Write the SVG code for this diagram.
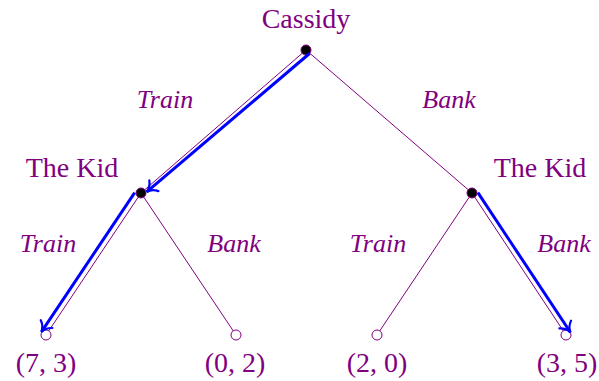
<svg xmlns="http://www.w3.org/2000/svg" width="599" height="381" viewBox="0 0 599 381">
  <style>
    .lbl { font-family: 'Liberation Serif', 'DejaVu Serif', serif; font-size: 28px; fill: #800080; text-anchor: middle; }
    .act { font-family: 'Liberation Serif', 'DejaVu Serif', serif; font-size: 26px; font-style: italic; fill: #800080; text-anchor: middle; }
    .edge { stroke: #800080; stroke-width: 1; fill: none; }
    .hl { stroke: #0000FF; stroke-width: 3; fill: none; marker-end: url(#to); }
    .inner { fill: #000000; stroke: #800080; stroke-width: 1; }
    .leaf { fill: #FFFFFF; stroke: #800080; stroke-width: 1; }
  </style>
  <defs>
    <marker id="to" markerUnits="userSpaceOnUse" markerWidth="30" markerHeight="30" viewBox="-15 -15 30 30" refX="0" refY="0" orient="auto" overflow="visible">
      <path d="M -9,-7 C -6,-2 -2,-0.5 0.5,0 C -2,0.5 -6,2 -9,7" stroke="#0000FF" stroke-width="2.2" fill="none" stroke-linecap="round"/>
    </marker>
  </defs>
  <rect width="599" height="381" fill="#FFFFFF"/>

  <g id="connectors">
    <line class="edge" x1="306" y1="50" x2="141" y2="193"/>
    <line class="edge" x1="306" y1="50" x2="472" y2="193"/>
    <line class="edge" x1="141" y1="193" x2="46" y2="335"/>
    <line class="edge" x1="141" y1="193" x2="236" y2="335"/>
    <line class="edge" x1="472" y1="193" x2="377" y2="335"/>
    <line class="edge" x1="472" y1="193" x2="566" y2="335"/>
    <text class="act" x="165" y="108">Train</text>
    <text class="act" x="449" y="108">Bank</text>
    <text class="act" x="48" y="252">Train</text>
    <text class="act" x="234" y="252">Bank</text>
    <text class="act" x="378" y="252">Train</text>
    <text class="act" x="564" y="252">Bank</text>
  </g>

  <g id="root">
    <circle class="inner" cx="306" cy="50" r="5"/>
    <text class="lbl" x="306" y="28">Cassidy</text>
  </g>
  <g id="kid-left">
    <circle class="inner" cx="141" cy="193" r="5"/>
    <text class="lbl" x="72" y="177">The Kid</text>
  </g>
  <g id="kid-right">
    <circle class="inner" cx="472" cy="193" r="5"/>
    <text class="lbl" x="540" y="177">The Kid</text>
  </g>
  <g id="leaf-1">
    <circle class="leaf" cx="46" cy="335" r="5"/>
    <text class="lbl" x="46" y="372">(7, 3)</text>
  </g>
  <g id="leaf-2">
    <circle class="leaf" cx="236" cy="335" r="5"/>
    <text class="lbl" x="235" y="372">(0, 2)</text>
  </g>
  <g id="leaf-3">
    <circle class="leaf" cx="377" cy="335" r="5"/>
    <text class="lbl" x="377" y="372">(2, 0)</text>
  </g>
  <g id="leaf-4">
    <circle class="leaf" cx="566" cy="335" r="5"/>
    <text class="lbl" x="567" y="372">(3, 5)</text>
  </g>

  <g id="highlight-connectors">
    <line class="hl" x1="309.5" y1="53.5" x2="147" y2="191.6"/>
    <line class="hl" x1="134.7" y1="192.6" x2="41.6" y2="331.6"/>
    <line class="hl" x1="477.9" y1="192.7" x2="570.2" y2="332"/>
  </g>
</svg>
